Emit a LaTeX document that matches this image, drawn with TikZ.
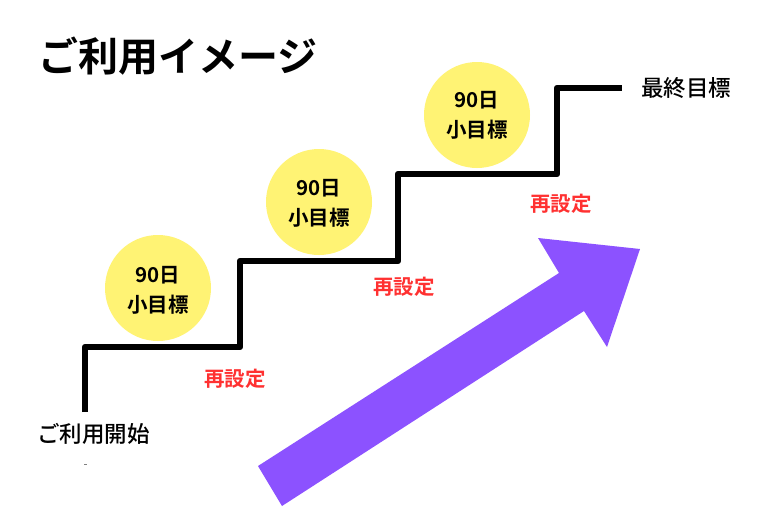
\documentclass[tikz,border=0pt]{standalone}
\usepackage{fontspec}
\newfontfamily\cjk{Noto Sans CJK JP Bold}
\newfontfamily\cjkm{Noto Sans CJK JP Medium}
\usetikzlibrary{positioning}
\definecolor{goalyellow}{HTML}{FFF374}
\definecolor{resetred}{HTML}{FF3131}
\definecolor{arrowpurple}{HTML}{8C52FF}
\tikzset{
  goal/.style={circle,fill=goalyellow,minimum size=106pt,inner sep=0pt},
  goaltext/.style={align=center,inner sep=0pt,font=\cjk\fontsize{20.5}{30}\selectfont},
  reset/.style={text=resetred,font=\cjk\fontsize{20.5}{24}\selectfont,inner sep=0pt},
  label/.style={font=\cjkm\fontsize{22.5}{26}\selectfont,inner sep=0pt},
}
\begin{document}
\begin{tikzpicture}[x=1pt,y=-1pt]
  \useasboundingbox[fill=white] (0,0) rectangle (780,520);
  % stairs
  \coordinate (s0) at (85,412);
  \coordinate (s1) at (85,347);
  \coordinate (s2) at (240,347);
  \coordinate (s3) at (240,261);
  \coordinate (s4) at (398,261);
  \coordinate (s5) at (398,174);
  \coordinate (s6) at (557,174);
  \coordinate (s7) at (557,88);
  \coordinate (s8) at (622,88);
  \draw[line width=6.5pt,line join=round] (s0) -- (s1) -- (s2) -- (s3) -- (s4) -- (s5) -- (s6) -- (s7) -- (s8);
  % small goals
  \node[goal] (goal1) at (158,288) {};
  \node[goal] (goal2) at (319,202) {};
  \node[goal] (goal3) at (477,115) {};
  \node[goaltext] (text1) at (158,290) {90日\\小目標};
  \node[goaltext] (text2) at (319,203) {90日\\小目標};
  \node[goaltext] (text3) at (477,115) {90日\\小目標};
  \node[reset] (reset1) at (235,379) {再設定};
  \node[reset] (reset2) at (404,287) {再設定};
  \node[reset] (reset3) at (561,204) {再設定};
  \node[label,anchor=west] (start) at (37,434) {ご利用開始};
  \node[label,anchor=west] (end) at (641,88) {最終目標};
  \node[font=\cjk\fontsize{40}{44}\selectfont,anchor=west,inner sep=0pt] (title) at (38,56) {ご利用イメージ};
  % big arrow
  \fill[arrowpurple] (282,506) -- (258,466) -- (559,273) -- (538,238) -- (640,249) -- (607,347) -- (584,311) -- cycle;
  % stray mark
  \fill[gray] (83.5,463.6) rectangle (86.5,464.6);
\end{tikzpicture}
\end{document}
